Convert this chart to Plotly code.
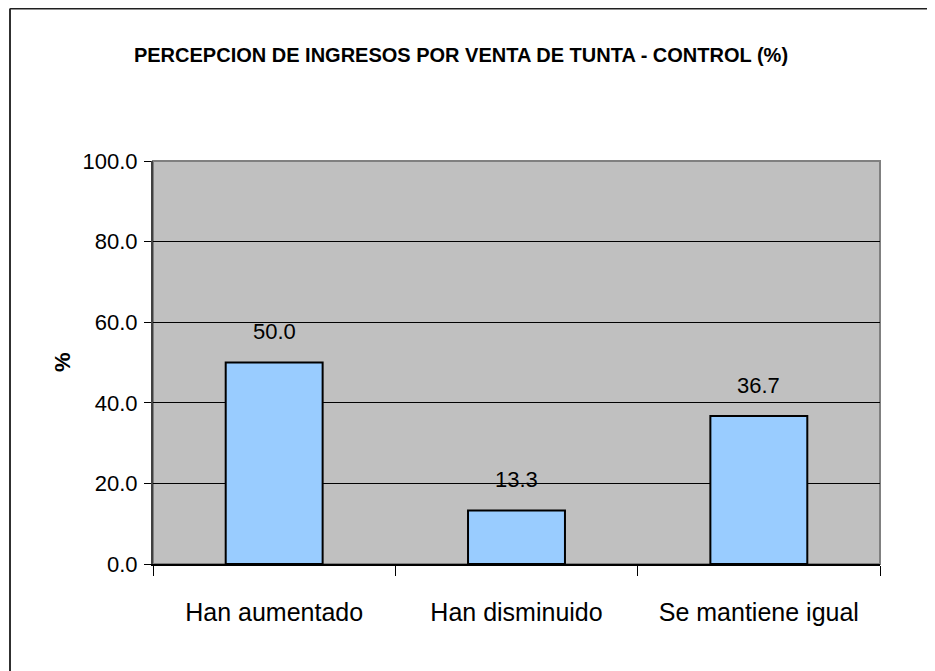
import plotly.graph_objects as go

categories = ["Han aumentado", "Han disminuido", "Se mantiene igual"]
values = [50.0, 13.3, 36.7]
y_ticks = [0, 20, 40, 60, 80, 100]
y_ticklabels = ["0.0", "20.0", "40.0", "60.0", "80.0", "100.0"]
title_text = "PERCEPCION DE INGRESOS POR VENTA DE TUNTA - CONTROL (%)"
y_title = "%"

OFF = 8  # default page body margin
W, H = 935 - OFF, 671 - OFF
PLOT_L, PLOT_R, PLOT_T, PLOT_B = 153, 880, 161, 564  # page pixels
L, T = PLOT_L - OFF, PLOT_T - OFF
PW, PH = PLOT_R - PLOT_L, PLOT_B - PLOT_T
R, B = W - L - PW, H - T - PH

FONT = "Liberation Sans, Arial, sans-serif"

def px_x(px):
    return (px - PLOT_L) / PW

def px_y(py):
    return (PLOT_B - py) / PH

fig = go.Figure()
fig.add_trace(go.Bar(
    x=categories, y=values,
    marker=dict(color="#99CCFF", line=dict(color="#000000", width=2)),
    hoverinfo="x+y",
))

for c, v in zip(categories, values):
    fig.add_annotation(x=c, y=v, text=f"{v:.1f}", showarrow=False,
                       yanchor="middle", yshift=31,
                       font=dict(family=FONT, size=22, color="#000000"))

fig.add_annotation(xref="paper", yref="paper", x=px_x(62), y=px_y(362),
                   xanchor="center", yanchor="middle",
                   text=f"<b>{y_title}</b>", showarrow=False, textangle=-90,
                   font=dict(family=FONT, size=22, color="#000000"))

# plot area border (top/right gray)
fig.add_shape(type="rect", xref="paper", yref="paper", x0=0, x1=1, y0=0, y1=1,
              line=dict(color="#808080", width=2), layer="below")
# outer chart border
fig.add_shape(type="line", xref="paper", yref="paper",
              x0=px_x(10), x1=px_x(950), y0=px_y(8.5), y1=px_y(8.5),
              line=dict(color="#202020", width=2))
fig.add_shape(type="line", xref="paper", yref="paper",
              x0=px_x(10), x1=px_x(10), y0=px_y(8.5), y1=px_y(690),
              line=dict(color="#303030", width=2))

fig.update_layout(
    width=W, height=H,
    margin=dict(l=L, r=R, t=T, b=B, autoexpand=False),
    paper_bgcolor="#FFFFFF", plot_bgcolor="#C0C0C0",
    bargap=0.6, showlegend=False,
    title=dict(text=f"<b>{title_text}</b>", x=(461 - OFF) / W, xanchor="center",
               y=1 - (55 - OFF) / H, yanchor="middle", yref="container",
               font=dict(family=FONT, size=20, color="#000000")),
    xaxis=dict(type="category", showgrid=False, showline=True, linecolor="#000000",
               linewidth=2, ticks="outside", tickson="boundaries", ticklen=10,
               tickcolor="#000000", tickwidth=1, ticklabelstandoff=25, tickangle=0,
               tickfont=dict(family=FONT, size=25, color="#000000"), zeroline=False),
    yaxis=dict(range=[0, 100], tickvals=y_ticks, ticktext=y_ticklabels,
               showgrid=True, gridcolor="#000000", gridwidth=1,
               showline=True, linecolor="#404040", linewidth=2,
               ticks="outside", ticklen=7, tickcolor="#000000", tickwidth=1,
               ticklabelstandoff=2, zeroline=False,
               tickfont=dict(family=FONT, size=22, color="#000000")),
)

fig.write_html("out.html")
